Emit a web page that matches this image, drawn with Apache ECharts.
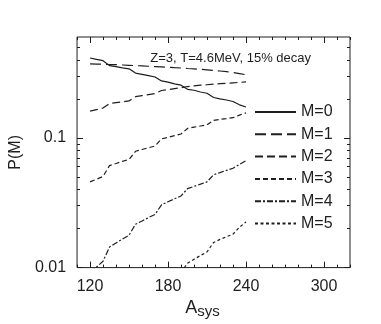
<!DOCTYPE html>
<html><head><meta charset="utf-8">
<script src="https://cdn.jsdelivr.net/npm/echarts@6/dist/echarts.min.js"></script>
<style>html,body{margin:0;padding:0;background:#fff}#c{width:381px;height:324px}</style>
</head><body><div id="c"></div>
<script>
// ---- data ----
const A = [120,125,130,135,140,145,150,155,160,165,170,175,180,185,190,195,200,205,210,215,220,225,230,235,240];
const M0 = [0.413,0.403,0.394,0.361,0.355,0.347,0.341,0.316,0.309,0.302,0.295,0.275,0.269,0.261,0.255,0.237,0.233,0.226,0.221,0.205,0.200,0.196,0.191,0.180,0.173];
const M1 = [0.372,0.371,0.370,0.368,0.367,0.365,0.363,0.361,0.359,0.357,0.355,0.353,0.351,0.348,0.346,0.343,0.341,0.338,0.335,0.331,0.328,0.324,0.319,0.313,0.307];
const M2 = [0.161,0.165,0.170,0.184,0.187,0.190,0.193,0.208,0.212,0.216,0.220,0.232,0.236,0.240,0.244,0.249,0.252,0.255,0.257,0.260,0.262,0.264,0.266,0.268,0.270];
const M3 = [0.0458,0.048,0.0505,0.0612,0.0635,0.066,0.0683,0.0789,0.0814,0.084,0.0866,0.0983,0.101,0.104,0.1072,0.1183,0.121,0.1235,0.126,0.1367,0.139,0.141,0.1432,0.150,0.156];
const M4 = [0.0092,0.0101,0.0112,0.0144,0.0155,0.0166,0.0178,0.0216,0.0229,0.0243,0.0257,0.0305,0.0322,0.0339,0.0357,0.0406,0.0423,0.044,0.0458,0.052,0.054,0.0562,0.0584,0.0625,0.0667];
const M5 = [null,null,null,null,null,null,null,null,null,null,null,null,null,null,0.0092,0.0108,0.0116,0.0124,0.0132,0.0156,0.0165,0.0173,0.0181,0.0205,0.0225];
const seriesNames = ['M=0','M=1','M=2','M=3','M=4','M=5'];
const xMajor = [120,180,240,300];
const xMinor = [110,130,140,150,160,170,190,200,210,220,230,250,260,270,280,290,310,320];
const yMajor = [0.01,0.1];
const yMinor = [0.02,0.03,0.04,0.05,0.06,0.07,0.08,0.09,0.2,0.3,0.4,0.5];
const annotation = 'Z=3, T=4.6MeV, 15% decay';

// ---- style ----
const FONT = '"Liberation Sans", Arial, Helvetica, sans-serif';
const INK = '#1e1e1e';
const xMin = 110, xMax = 320, yMin = 0.01, yMax = 0.6;
const dashes = ['solid',[11,5],[8,4],[5,3],[6,2,2,2],[3,2.5]];
const allSeries = [M0,M1,M2,M3,M4,M5];

const lg = v => Math.log10(v);
const tickLine = {color: INK, width: 1};

function xAx(pos, vals, len, labels) {
  return {
    type:'value', min:xMin, max:xMax, position:pos,
    axisLine:{show:false}, splitLine:{show:false},
    axisTick:{show:true, inside:true, length:len, customValues:vals, lineStyle:tickLine},
    axisLabel: labels ? {show:true, customValues:vals, margin:11, fontSize:16, color:INK, fontFamily:FONT} : {show:false}
  };
}
function yAx(pos, vals, len, labels) {
  return {
    type:'value', min:lg(yMin), max:lg(yMax), position:pos,
    axisLine:{show:false}, splitLine:{show:false},
    axisTick:{show:true, inside:true, length:len, customValues:vals.map(lg), lineStyle:tickLine},
    axisLabel: labels ? {show:true, customValues:vals.map(lg), margin:11, fontSize:16, color:INK, fontFamily:FONT,
      formatter: v => String(+Math.pow(10, v).toPrecision(3))} : {show:false}
  };
}

const xAxes = [xAx('bottom', xMajor, 6, true), xAx('bottom', xMinor, 3, false), xAx('top', xMajor, 6, false), xAx('top', xMinor, 3, false)];
Object.assign(xAxes[0], {
  name:'{a|A}{s|sys}', nameLocation:'middle', nameGap:27,
  nameTextStyle:{padding:[0,22,0,0], rich:{a:{fontSize:18, color:INK, fontFamily:FONT}, s:{fontSize:15, color:INK, fontFamily:FONT, padding:[6,0,0,0]}}}
});
const yAxes = [
  {type:'log', logBase:10, min:yMin, max:yMax, axisLine:{show:false}, axisTick:{show:false}, axisLabel:{show:false}, splitLine:{show:false}},
  yAx('left', yMajor, 6, true), yAx('left', yMinor, 3, false), yAx('right', yMajor, 6, false), yAx('right', yMinor, 3, false)
];
Object.assign(yAxes[1], {name:'P(M)', nameLocation:'middle', nameGap:43, nameTextStyle:{fontSize:16, color:INK, fontFamily:FONT}});

const chart = echarts.init(document.getElementById('c'), null, {renderer:'canvas'});
chart.setOption({
  animation:false,
  backgroundColor:'#fff',
  title:{text:annotation, right:65, top:47, textStyle:{fontSize:13, fontWeight:'normal', color:INK, fontFamily:FONT}},
  grid:{left:66, right:31, top:37, bottom:51, show:true, borderColor:INK, borderWidth:1, backgroundColor:'transparent'},
  legend:{orient:'vertical', left:254, top:104, padding:0, itemWidth:41, itemHeight:14, itemGap:6.3,
    itemStyle:{color:'transparent', borderColor:'transparent', borderWidth:0, opacity:0},
    textStyle:{fontSize:16, color:INK, fontFamily:FONT}, data:seriesNames},
  xAxis:xAxes,
  yAxis:yAxes,
  series: allSeries.map((arr, i) => ({
    name:seriesNames[i], type:'line', xAxisIndex:0, yAxisIndex:0,
    symbol:'none', clip:true, connectNulls:false,
    lineStyle:{color:INK, width:1.2, type:dashes[i]},
    itemStyle:{color:INK},
    data: A.map((a, k) => [a, arr[k]])
  }))
});
</script></body></html>
